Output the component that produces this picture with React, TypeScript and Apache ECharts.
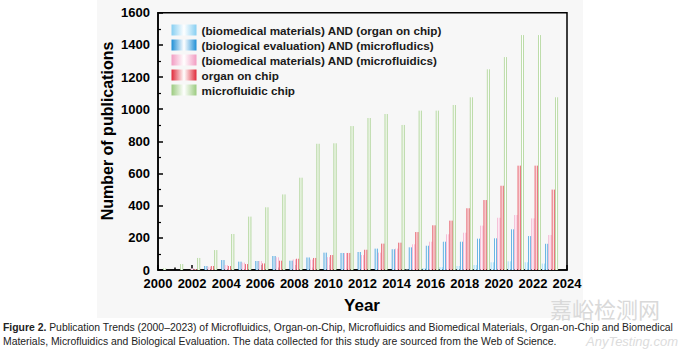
import React, { useEffect, useRef } from 'react';
import * as echarts from 'echarts';

const categories = ['2000','2001','2002','2003','2004','2005','2006','2007','2008','2009','2010','2011','2012','2013','2014','2015','2016','2017','2018','2019','2020','2021','2022','2023','2024'];

const seriesNames = [
  '(biomedical materials) AND (organ on chip)',
  '(biological evaluation) AND (microfludics)',
  '(biomedical materials) AND (microfluidics)',
  'organ on chip',
  'microfluidic chip',
];

const bioMatOrganValues = [0,0,0,0,0,0,0,0,0,0,0,0,0,0,0,3,12,18,25,31,48,54,48,40];
const bioEvalMicroValues = [0,0,0,25,62,52,56,87,58,78,108,106,112,133,129,141,151,176,176,195,197,253,211,163];
const bioMatMicroValues = [0,0,10,20,31,46,56,79,66,65,80,106,93,108,133,160,176,222,232,276,325,342,321,218];
const organOnChipValues = [0,0,5,25,25,37,41,58,70,75,93,106,126,164,170,236,278,307,384,435,524,649,649,500];
const microChipValues = [10,37,75,124,224,332,390,470,574,785,788,895,945,970,902,991,991,1026,1074,1248,1324,1461,1461,1074];

const yTicks = { min: 0, max: 1600, interval: 200 };

const edgeColors = ['#86cff2', '#1f8fd6', '#f29cc2', '#e02a3a', '#9ccb80'];

const captionLine1 = 'Publication Trends (2000\u20132023) of Microfluidics, Organ-on-Chip, Microfluidics and Biomedical Materials, Organ-on-Chip and Biomedical';
const captionLine2 = 'Materials, Microfluidics and Biological Evaluation. The data collected for this study are sourced from the Web of Science.';

function grad(c: string) {
  return new echarts.graphic.LinearGradient(0, 0, 1, 0, [
    { offset: 0, color: c },
    { offset: 0.5, color: '#ffffff' },
    { offset: 1, color: c },
  ]);
}

export default function App() {
  const ref = useRef<HTMLDivElement>(null);
  useEffect(() => {
    if (!ref.current) return;
    const chart = echarts.init(ref.current, undefined, { renderer: 'svg' });
    const allValues = [bioMatOrganValues, bioEvalMicroValues, bioMatMicroValues, organOnChipValues, microChipValues];
    const font = 'Liberation Sans, Arial, sans-serif';
    chart.setOption({
      animation: false,
      grid: {
        left: 158, right: 113, top: 12.7, bottom: 82,
        show: true, borderColor: '#000', borderWidth: 1.5, backgroundColor: 'transparent',
      },
      legend: {
        orient: 'vertical',
        left: 166.5,
        top: 18,
        itemWidth: 25,
        itemHeight: 11,
        itemGap: 1,
        icon: 'rect',
        textStyle: { fontFamily: font, fontWeight: 'bold', fontSize: 11.7, color: '#1a1a1a', lineHeight: 14 },
        data: seriesNames,
      },
      xAxis: [
        {
          type: 'category',
          data: categories,
          boundaryGap: false,
          axisLine: { lineStyle: { color: '#000', width: 1.5 } },
          axisTick: { inside: true, length: 5, interval: (i: number) => i % 2 === 0, lineStyle: { color: '#000', width: 1.5 } },
          axisLabel: { interval: 1, margin: 7, fontFamily: font, fontWeight: 'bold', fontSize: 13, color: '#000' },
          splitLine: { show: false },
        },
        {
          type: 'category',
          data: categories,
          boundaryGap: false,
          position: 'bottom',
          axisLine: { show: false },
          axisTick: { inside: true, length: 2.5, interval: (i: number) => i % 2 === 1, lineStyle: { color: '#000', width: 1.5 } },
          axisLabel: { show: false },
          splitLine: { show: false },
        },
      ],
      yAxis: {
        type: 'value',
        min: yTicks.min, max: yTicks.max, interval: yTicks.interval,
        axisLine: { show: true, lineStyle: { color: '#000', width: 1.5 } },
        axisTick: { show: true, inside: true, length: 5, lineStyle: { color: '#000', width: 1.5 } },
        minorTick: { show: true, splitNumber: 2, length: 3, lineStyle: { color: '#000', width: 1.2 } },
        axisLabel: { margin: 8, fontFamily: font, fontWeight: 'bold', fontSize: 13, color: '#000', formatter: (v: number) => String(v) },
        splitLine: { show: false },
      },
      series: seriesNames.map((name, i) => ({
        name,
        type: 'bar',
        xAxisIndex: 0,
        data: allValues[i],
        barWidth: 3,
        barGap: '10%',
        itemStyle: { color: grad(edgeColors[i]) },
      })),
      graphic: [
        {
          type: 'text', x: 107, y: 131, rotation: Math.PI / 2,
          style: { text: 'Number of publications', fontFamily: font, fontWeight: 'bold', fontSize: 16, fill: '#000', align: 'center', verticalAlign: 'middle' },
        },
        {
          type: 'text', x: 362, y: 305,
          style: { text: 'Year', fontFamily: font, fontWeight: 'bold', fontSize: 17, fill: '#000', align: 'center', verticalAlign: 'middle' },
        },
        {
          type: 'text', x: 550, y: 308,
          style: { text: '嘉峪检测网', fontFamily: 'Noto Sans CJK SC', fontSize: 22, fill: '#d9d9d9', align: 'left', verticalAlign: 'middle' },
        },
        {
          type: 'text', x: 678, y: 341,
          style: { text: 'AnyTesting.com', fontFamily: font, fontStyle: 'italic', fontSize: 13, fill: '#dcdcdc', align: 'right', verticalAlign: 'middle' },
        },
        {
          type: 'text', x: 3, y: 327,
          style: {
            text: '{b|Figure 2.} ' + captionLine1,
            fontFamily: font, fontSize: 10.4, fill: '#222', align: 'left', verticalAlign: 'middle',
            rich: { b: { fontFamily: font, fontSize: 10.4, fontWeight: 'bold', fill: '#222' } },
          },
        },
        {
          type: 'text', x: 3, y: 341,
          style: { text: captionLine2, fontFamily: font, fontSize: 10.4, fill: '#222', align: 'left', verticalAlign: 'middle' },
        },
      ],
    });
    return () => chart.dispose();
  }, []);
  return (
    <div style={{ position: 'fixed', left: 0, top: 0, width: 680, height: 352, background: '#ffffff' }}>
      <div style={{ position: 'absolute', left: 97, top: 0, width: 486, height: 318, background: '#f7f7f7' }} />
      <div ref={ref} style={{ position: 'absolute', left: 0, top: 0, width: 680, height: 352 }} />
    </div>
  );
}
